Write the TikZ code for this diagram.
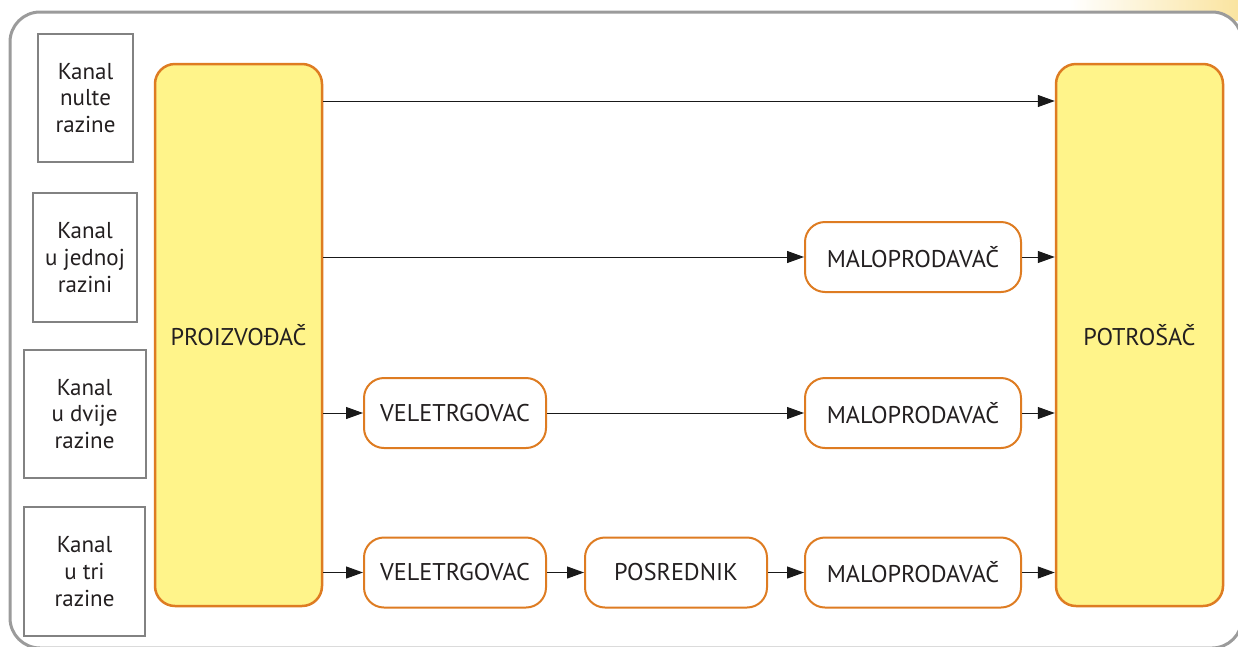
\documentclass[tikz,border=0pt]{standalone}
\usepackage{fontspec}
\setmainfont{PT Sans}
\usetikzlibrary{arrows.meta}
\definecolor{framegray}{RGB}{155,155,155}
\definecolor{kboxgray}{RGB}{130,130,130}
\definecolor{org}{RGB}{222,124,34}
\definecolor{yel}{RGB}{255,244,138}
\definecolor{txt}{RGB}{35,31,32}
\definecolor{glow}{RGB}{250,228,160}
\begin{document}
\begin{tikzpicture}[x=1pt,y=-1pt,
  lbl/.style={text=txt,font=\fontsize{23}{26.7}\selectfont},
  caps/.style={text=txt,font=\fontsize{24.2}{28}\selectfont},
  kanal/.style={lbl,draw=kboxgray,line width=2pt,fill=white,inner sep=0pt,align=center},
  big/.style={caps,draw=org,line width=2.5pt,fill=yel,rounded corners=20pt,inner sep=0pt,minimum width=167pt,minimum height=542pt},
  small/.style={caps,draw=org,line width=2pt,fill=white,rounded corners=20pt,inner sep=0pt,minimum height=70pt},
  arr/.style={-{Triangle[length=17pt,width=12pt]},line width=1pt,draw=black!90,fill=black!90}
]
\useasboundingbox (0,0) rectangle (1238,646);
\shade[left color=white,right color=glow] (1070,0) rectangle (1238,20);
\draw[draw=framegray,line width=3pt,fill=white,rounded corners=30pt] (10,12) rectangle (1242,648);

\node[kanal,minimum width=95pt,minimum height=128pt] (K1) at (85.5,98) {Kanal\\nulte\\razine};
\node[kanal,minimum width=104pt,minimum height=129pt] (K2) at (85,257.5) {Kanal\\u jednoj\\razini};
\node[kanal,minimum width=122pt,minimum height=128pt] (K3) at (84.5,414) {Kanal\\u dvije\\razine};
\node[kanal,minimum width=121pt,minimum height=129pt] (K4) at (84.5,571.5) {Kanal\\u tri\\razine};

\node[big] (P) at (238.5,335) {PROIZVOĐAČ};
\node[big] (Q) at (1139.5,335) {POTROŠAČ};

\node[small,minimum width=216pt] (M2) at (913,257) {MALOPRODAVAČ};
\node[small,minimum width=182pt] (V3) at (455,413) {VELETRGOVAC};
\node[small,minimum width=216pt] (M3) at (913,413) {MALOPRODAVAČ};
\node[small,minimum width=182pt] (V4) at (455,572.5) {VELETRGOVAC};
\node[small,minimum width=182pt] (S4) at (676,572.5) {POSREDNIK};
\node[small,minimum width=216pt] (M4) at (913,572.5) {MALOPRODAVAČ};

\coordinate (r1) at (0,101);
\draw[arr] (P.east |- r1) -- (Q.west |- r1);
\draw[arr] (P.east |- M2) -- (M2.west);
\draw[arr] (M2.east) -- (Q.west |- M2);
\draw[arr] (P.east |- V3) -- (V3.west);
\draw[arr] (V3.east) -- (M3.west);
\draw[arr] (M3.east) -- (Q.west |- M3);
\draw[arr] (P.east |- V4) -- (V4.west);
\draw[arr] (V4.east) -- (S4.west);
\draw[arr] (S4.east) -- (M4.west);
\draw[arr] (M4.east) -- (Q.west |- M4);
\end{tikzpicture}
\end{document}
